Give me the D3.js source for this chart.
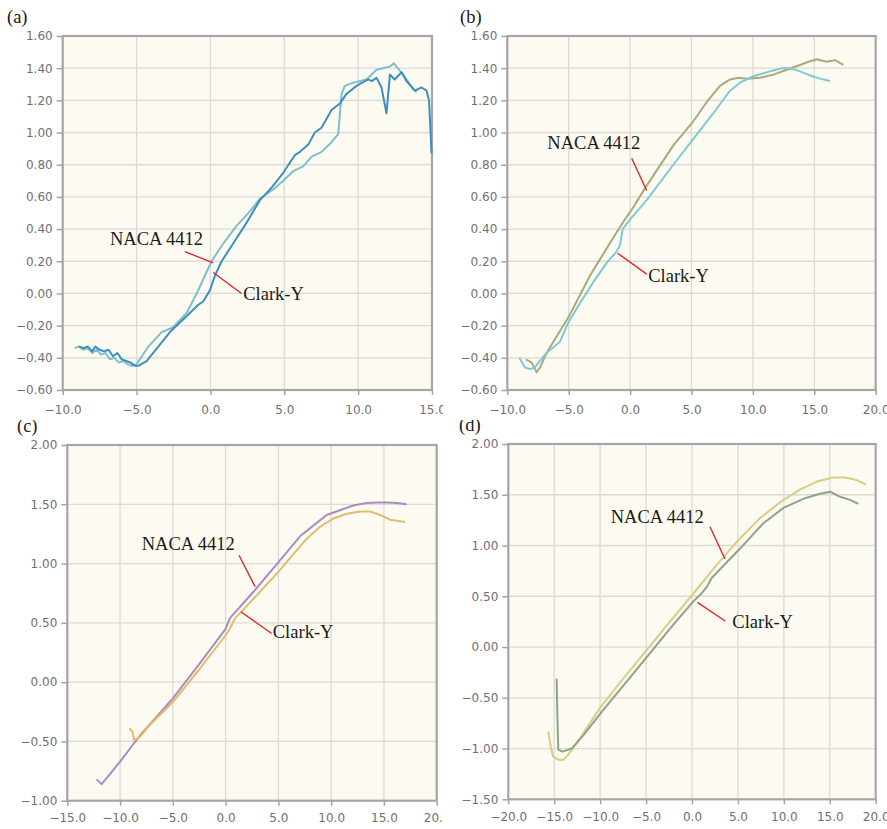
<!DOCTYPE html>
<html>
<head>
<meta charset="utf-8">
<script src="https://cdn.jsdelivr.net/npm/d3@7"></script>
<style>
body { margin: 0; background: #fff; }
svg { display: block; }
</style>
</head>
<body>
<div id="vis"></div>
<script>
var w = 887, h = 829; // size of the whole figure

// (a) lift curves, [alpha, CL]
var nacaA = [[-9.2,-0.34],[-8.9,-0.33],[-8.6,-0.35],[-8.3,-0.34],[-8.0,-0.37],[-7.7,-0.35],[-7.4,-0.38],
  [-7.1,-0.37],[-6.8,-0.41],[-6.5,-0.40],[-6.2,-0.43],[-5.9,-0.42],[-5.6,-0.44],[-5.3,-0.45],[-5.0,-0.44],
  [-4.2,-0.33],[-3.3,-0.24],[-2.52,-0.21],[-1.6,-0.12],[-0.93,0.0],[0.08,0.2],[0.87,0.31],[1.77,0.42],
  [2.67,0.51],[3.35,0.59],[4.25,0.646],[4.93,0.70],[5.6,0.76],[6.28,0.79],[6.85,0.85],[7.52,0.88],
  [8.2,0.94],[8.65,0.99],[8.88,1.24],[9.1,1.29],[9.67,1.31],[10.57,1.33],[11.25,1.39],[11.7,1.40],
  [12.15,1.41],[12.42,1.43],[12.6,1.41],[13.05,1.36],[13.73,1.27],[13.96,1.25]];
var clarkA = [[-8.9,-0.33],[-8.6,-0.34],[-8.3,-0.33],[-8.0,-0.36],[-7.8,-0.33],[-7.5,-0.35],[-7.2,-0.36],
  [-6.9,-0.35],[-6.6,-0.39],[-6.3,-0.37],[-6.0,-0.41],[-5.7,-0.42],[-5.4,-0.43],[-5.1,-0.45],[-4.88,-0.45],
  [-4.32,-0.42],[-2.74,-0.24],[-1.6,-0.14],[-0.82,-0.07],[-0.49,-0.05],[-0.03,0.02],[0.3,0.11],[0.76,0.2],
  [1.54,0.31],[2.45,0.44],[3.35,0.58],[4.03,0.646],[4.93,0.75],[5.72,0.86],[6.06,0.88],[6.62,0.925],
  [7.07,1.0],[7.52,1.03],[8.2,1.14],[8.76,1.18],[9.21,1.24],[9.89,1.29],[10.68,1.33],[10.91,1.32],
  [11.25,1.34],[11.58,1.28],[11.92,1.12],[12.15,1.36],[12.48,1.33],[12.94,1.375],[13.27,1.32],
  [13.84,1.26],[14.29,1.28],[14.63,1.26],[14.8,1.20],[14.97,0.87]];

// (b)
var nacaB = [[-8.48,-0.41],[-8.02,-0.43],[-7.61,-0.49],[-7.34,-0.46],[-6.8,-0.37],[-5.85,-0.25],[-5.03,-0.15],
  [-4.22,-0.03],[-3.27,0.11],[-1.91,0.28],[-1.1,0.38],[-0.42,0.46],[0.13,0.52],[1.35,0.67],[3.52,0.92],
  [5.15,1.07],[6.24,1.19],[7.32,1.29],[8.14,1.33],[8.82,1.34],[9.5,1.335],[10.58,1.34],[11.67,1.36],
  [12.75,1.39],[13.84,1.42],[14.52,1.44],[15.2,1.455],[16.0,1.44],[16.69,1.45],[17.37,1.42]];
var clarkB = [[-9.02,-0.40],[-8.56,-0.46],[-8.15,-0.47],[-7.75,-0.46],[-7.47,-0.43],[-6.8,-0.37],[-5.71,-0.30],
  [-5.03,-0.18],[-4.08,-0.06],[-3.0,0.07],[-1.91,0.19],[-1.1,0.26],[-0.82,0.30],[-0.61,0.40],[0.0,0.46],
  [1.35,0.58],[3.52,0.80],[5.15,0.96],[6.78,1.12],[8.14,1.26],[8.95,1.31],[10.04,1.35],[11.4,1.38],
  [12.35,1.40],[13.0,1.40],[13.84,1.38],[14.65,1.355],[15.47,1.335],[16.28,1.32]];

// (c)
var nacaC = [[-12.22,-0.82],[-11.75,-0.86],[-11.27,-0.81],[-10.0,-0.67],[-8.11,-0.45],[-5.02,-0.14],
  [-2.43,0.16],[0.0,0.45],[0.41,0.54],[2.62,0.76],[4.99,1.01],[7.05,1.23],[8.31,1.32],[9.57,1.41],
  [10.84,1.45],[12.1,1.49],[13.36,1.51],[14.31,1.515],[15.26,1.515],[16.2,1.51],[17.15,1.50]];
var clarkC = [[-9.12,-0.39],[-8.81,-0.42],[-8.68,-0.49],[-8.11,-0.46],[-7.17,-0.36],[-5.02,-0.17],
  [-2.43,0.115],[-0.22,0.37],[0.41,0.45],[0.89,0.54],[1.36,0.58],[4.99,0.93],[7.68,1.21],[8.94,1.31],
  [10.21,1.38],[11.47,1.42],[12.73,1.44],[13.68,1.44],[14.63,1.41],[15.57,1.37],[16.99,1.35]];

// (d)
var nacaD = [[-15.64,-0.83],[-15.35,-1.0],[-15.1,-1.08],[-14.56,-1.11],[-14.01,-1.11],[-13.47,-1.06],
  [-12.2,-0.90],[-10.02,-0.60],[-7.48,-0.31],[-4.94,-0.03],[-2.4,0.25],[0.0,0.51],[2.69,0.81],
  [5.01,1.05],[7.4,1.27],[9.95,1.45],[11.76,1.55],[13.58,1.63],[15.39,1.67],[16.66,1.67],
  [17.93,1.645],[18.95,1.60]];
var clarkD = [[-14.74,-0.31],[-14.66,-0.67],[-14.56,-1.01],[-14.08,-1.03],[-13.1,-1.0],[-11.83,-0.87],
  [-9.66,-0.62],[-7.11,-0.34],[-4.57,-0.06],[-2.03,0.22],[0.15,0.45],[1.05,0.53],[1.6,0.59],[2.14,0.68],
  [5.23,0.97],[7.77,1.22],[9.95,1.37],[12.12,1.46],[13.94,1.51],[15.03,1.53],[16.12,1.48],[17.2,1.45],
  [18.11,1.41]];

// tick values
var xTicksA = [-10, -5, 0, 5, 10, 15];
var xTicksB = [-10, -5, 0, 5, 10, 15, 20];
var xTicksC = [-15, -10, -5, 0, 5, 10, 15, 20];
var xTicksD = [-20, -15, -10, -5, 0, 5, 10, 15, 20];
var yTicksAB = [-0.6, -0.4, -0.2, 0, 0.2, 0.4, 0.6, 0.8, 1.0, 1.2, 1.4, 1.6];
var yTicksC = [-1.0, -0.5, 0, 0.5, 1.0, 1.5, 2.0];
var yTicksD = [-1.5, -1.0, -0.5, 0, 0.5, 1.0, 1.5, 2.0];

var seriesNames = ["NACA 4412", "Clark-Y"];

// layout of the four panels (box on the page, then the plot area inside it)
var panels = [
  {tag: "(a)", bx: 0, by: 0, bw: 443, bh: 420, l: 62.7, r: 432, t: 36, b: 390, pad: 10,
   xt: xTicksA, yt: yTicksAB, yf: ".2f", naca: nacaA, clark: clarkA,
   cN: "#7fbfcb", cC: "#3d8fbe",
   nText: [-6.80, 0.30], nLead: [[-1.73, 0.26], [0.19, 0.19]],
   cLead: [[0.19, 0.13], [2.11, 0.0]], cText: [2.22, -0.04], tagX: 7, tagY: 23},
  {tag: "(b)", bx: 443, by: 0, bw: 444, bh: 420, l: 507.3, r: 875.7, t: 36, b: 390, pad: 10,
   xt: xTicksB, yt: yTicksAB, yf: ".2f", naca: nacaB, clark: clarkB,
   cN: "#a9a97c", cC: "#7fcad2",
   nText: [-6.74, 0.90], nLead: [[0.13, 0.84], [1.35, 0.64]],
   cLead: [[-1.01, 0.25], [1.35, 0.12]], cText: [1.48, 0.07], tagX: 460, tagY: 23},
  {tag: "(c)", bx: 0, by: 420, bw: 443, bh: 409, l: 67.3, r: 436.7, t: 445, b: 800.7, pad: 8,
   xt: xTicksC, yt: yTicksC, yf: ".2f", naca: nacaC, clark: clarkC,
   cN: "#aa8cc2", cC: "#e2bb6c",
   nText: [-7.95, 1.115], nLead: [[1.27, 1.07], [2.79, 0.805]],
   cLead: [[1.44, 0.594], [4.37, 0.41]], cText: [4.47, 0.375], tagX: 17, tagY: 432},
  {tag: "(d)", bx: 443, by: 420, bw: 444, bh: 409, l: 508.3, r: 875.7, t: 444, b: 799.3, pad: 8,
   xt: xTicksD, yt: yTicksD, yf: ".2f", naca: nacaD, clark: clarkD,
   cN: "#d9cd82", cC: "#8da38a",
   nText: [-8.85, 1.219], nLead: [[1.96, 1.185], [3.59, 0.867]],
   cLead: [[0.58, 0.44], [3.62, 0.256]], cText: [4.39, 0.184], tagX: 459, tagY: 431}
];

var svg = d3.select("#vis").append("svg")
    .attr("width", w)
    .attr("height", h);

svg.append("rect").attr("width", w).attr("height", h).attr("fill", "#fff");

panels.forEach(function(p){

  // each panel clips itself, like the cropped screenshots
  var box = svg.append("svg")
      .attr("x", p.bx).attr("y", p.by)
      .attr("width", p.bw).attr("height", p.bh);

  var g = box.append("g").attr("transform", "translate(" + (-p.bx) + "," + (-p.by) + ")");

  var x = d3.scaleLinear()
      .domain([p.xt[0], p.xt[p.xt.length - 1]])
      .range([p.l, p.r]);
  var y = d3.scaleLinear()
      .domain([p.yt[0], p.yt[p.yt.length - 1]])
      .range([p.b, p.t]);

  g.append("rect")
      .attr("x", p.l).attr("y", p.t)
      .attr("width", p.r - p.l).attr("height", p.b - p.t)
      .attr("fill", "#fdfbf1");

  // grid
  g.append("g").selectAll("line")
      .data(p.xt.slice(1, -1))
      .enter().append("line")
      .attr("x1", function(d){ return x(d); }).attr("x2", function(d){ return x(d); })
      .attr("y1", p.t).attr("y2", p.b)
      .attr("stroke", "#dadad6").attr("stroke-width", 1.3);
  g.append("g").selectAll("line")
      .data(p.yt.slice(1, -1))
      .enter().append("line")
      .attr("y1", function(d){ return y(d); }).attr("y2", function(d){ return y(d); })
      .attr("x1", p.l).attr("x2", p.r)
      .attr("stroke", "#dadad6").attr("stroke-width", 1.3);

  // axes
  var xAxis = g.append("g")
      .attr("transform", "translate(0," + p.b + ")")
      .call(d3.axisBottom(x).tickValues(p.xt).tickFormat(d3.format(".1f"))
            .tickSize(5).tickPadding(p.pad));
  var yAxis = g.append("g")
      .attr("transform", "translate(" + p.l + ",0)")
      .call(d3.axisLeft(y).tickValues(p.yt).tickFormat(d3.format(p.yf))
            .tickSize(6).tickPadding(4));

  [xAxis, yAxis].forEach(function(a){
    a.select(".domain").remove();
    a.selectAll(".tick line").attr("stroke", "#a4a4a4").attr("stroke-width", 1.5);
    a.selectAll(".tick text")
        .attr("fill", "#707070")
        .style("font-family", "'DejaVu Sans', Verdana, sans-serif")
        .style("font-size", "12px");
  });

  g.append("rect")
      .attr("x", p.l).attr("y", p.t)
      .attr("width", p.r - p.l).attr("height", p.b - p.t)
      .attr("fill", "none")
      .attr("stroke", "#a6a6a6").attr("stroke-width", 2.2);

  // curves
  var line = d3.line()
      .x(function(d){ return x(d[0]); })
      .y(function(d){ return y(d[1]); });

  g.append("path").datum(p.naca)
      .attr("d", line)
      .attr("fill", "none").attr("stroke", p.cN)
      .attr("stroke-width", 2).attr("stroke-linejoin", "round");
  g.append("path").datum(p.clark)
      .attr("d", line)
      .attr("fill", "none").attr("stroke", p.cC)
      .attr("stroke-width", 2).attr("stroke-linejoin", "round");

  // callouts
  [p.nLead, p.cLead].forEach(function(ld){
    g.append("line")
        .attr("x1", x(ld[0][0])).attr("y1", y(ld[0][1]))
        .attr("x2", x(ld[1][0])).attr("y2", y(ld[1][1]))
        .attr("stroke", "#e0262b").attr("stroke-width", 1.4);
  });
  g.append("text")
      .attr("x", x(p.nText[0])).attr("y", y(p.nText[1]))
      .text(seriesNames[0]);
  g.append("text")
      .attr("x", x(p.cText[0])).attr("y", y(p.cText[1]))
      .text(seriesNames[1]);
  g.selectAll("text:not(.tick text)");

  g.append("text")
      .attr("x", p.tagX).attr("y", p.tagY)
      .text(p.tag);

  g.selectAll(":scope > text")
      .attr("fill", "#1a1a1a")
      .style("font-family", "'Liberation Serif', 'Times New Roman', serif")
      .style("font-size", "18.5px");
});
</script>
</body>
</html>
